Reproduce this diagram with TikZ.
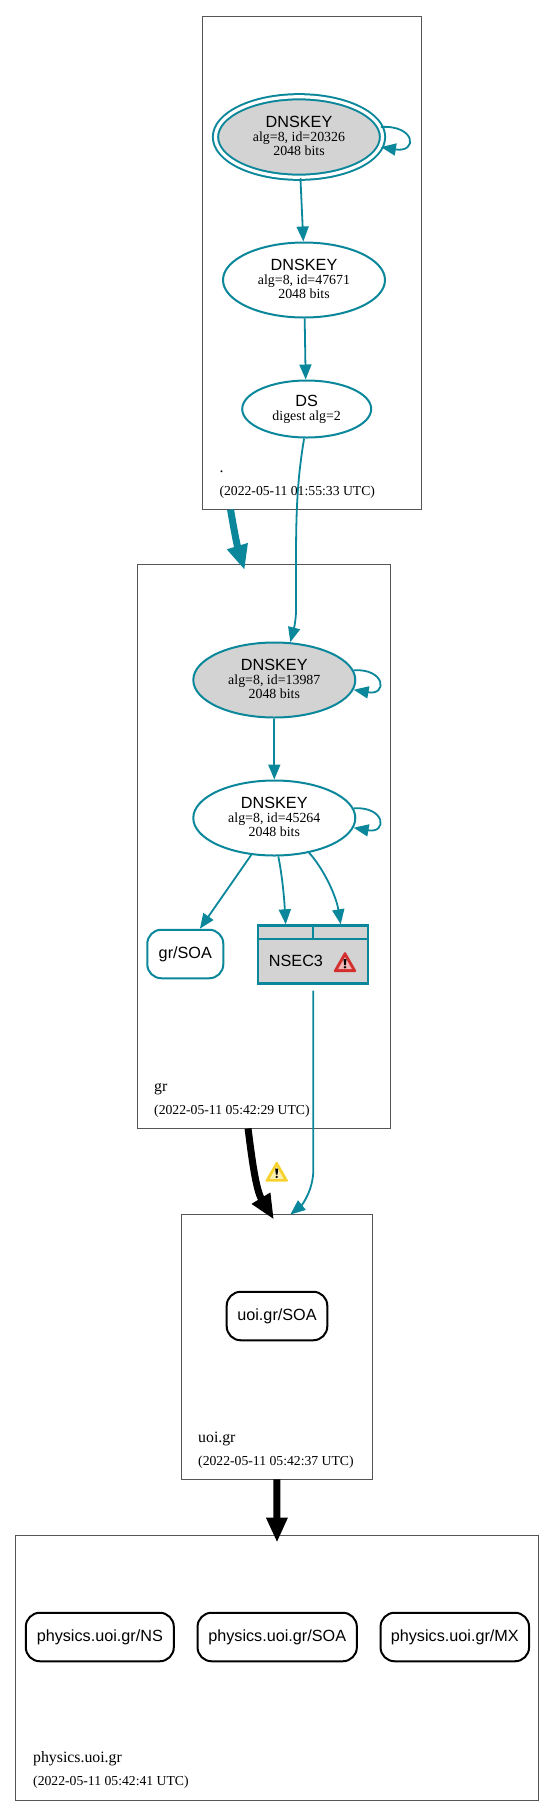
\documentclass[tikz,border=0pt]{standalone}
\usepackage{fontspec}
\setmainfont{Liberation Serif}
\setsansfont{Liberation Sans}
\usetikzlibrary{positioning,calc,shapes.geometric,arrows.meta}
\definecolor{secureteal}{HTML}{0A879A}
\definecolor{keygray}{HTML}{D3D3D3}
\definecolor{zoneline}{HTML}{555555}
\definecolor{warnred}{HTML}{D32F2F}
\definecolor{warnyellow}{HTML}{F7D22E}
\newcommand{\namefont}{\sffamily\fontsize{16.2}{16.2}\selectfont}
\newcommand{\infofont}{\rmfamily\fontsize{13.9}{14.2}\selectfont}
\newcommand{\keytext}[2]{{\namefont DNSKEY}\\ alg=8, id=#1\\ #2 bits}

\begin{document}
\begin{tikzpicture}[
    x=1pt, y=-1pt,
    zonebox/.style={rectangle, draw=zoneline, line width=0.9pt, inner sep=0pt},
    zonename/.style={anchor=base west, inner sep=0pt, font=\rmfamily\fontsize{15.8}{15.8}\selectfont},
    zonetime/.style={anchor=base west, inner sep=0pt, font=\rmfamily\fontsize{13.7}{14}\selectfont},
    keynode/.style={ellipse, draw=secureteal, line width=2pt, inner sep=0pt,
                    minimum width=162pt, minimum height=75pt, align=center,
                    font=\infofont, text depth=2pt},
    rrnode/.style={rectangle, rounded corners=14pt, draw=#1, line width=2pt, inner sep=0pt,
                   minimum height=48.5pt, font=\namefont, text height=11.6pt, text depth=2pt},
    link/.style={draw=secureteal, line width=1.8pt, -{Triangle[length=15pt,width=12pt]}},
    fatlink/.style={draw=#1, line width=7pt, -{Triangle[length=25pt,width=20pt]}},
    warnsign/.pic={
        \fill[#1, rounded corners=1.5pt] (-12,10) -- (0,-11) -- (12,10) -- cycle;
        \fill[white!65!#1, rounded corners=0.5pt] (-7,7.2) -- (0,-5) -- (7,7.2) -- cycle;
        \fill[black] (-1.5,-3) -- (1.5,-3) -- (0.8,3) -- (-0.8,3) -- cycle;
        \fill[black] (0,5.2) circle (1.3);
    }
]
\useasboundingbox (0,0) rectangle (555,1816);

% zones
\node[zonebox, minimum width=219pt, minimum height=493pt] (rootzone) at (312,262.5) {};
\node[zonebox, minimum width=253pt, minimum height=564pt] (grzone) at (264,846) {};
\node[zonebox, minimum width=190.5pt, minimum height=265pt] (uoizone) at (276.8,1346.5) {};
\node[zonebox, minimum width=523pt, minimum height=265pt] (physicszone) at (277,1667.5) {};

\foreach \name/\when/\x/\y in {./01:55:33/219.3/472.7, gr/05:42:29/154/1091.7, uoi.gr/05:42:37/198/1442.5, physics.uoi.gr/05:42:41/33/1762.5} {
    \node[zonename] (label-\name) at (\x,\y) {\name};
    \node[zonetime] (time-\name) at (\x,\y+23) {(2022-05-11 \when\ UTC)};
}

% root
\node[keynode, fill=keygray, double=white, double distance=3.2pt, minimum width=167pt, minimum height=80.5pt] (key20326) at (299,137) {\keytext{20326}{2048}};
\node[keynode] (key47671) at (304,280) {\keytext{47671}{2048}};
\node[keynode, minimum width=129pt, minimum height=57pt, text depth=1.6pt] (dsroot) at (306.7,409) {{\namefont DS}\\ digest alg=2};

% gr
\node[keynode, fill=keygray] (key13987) at (274.3,680) {\keytext{13987}{2048}};
\node[keynode] (key45264) at (274.3,818) {\keytext{45264}{2048}};
\node[rrnode=secureteal, minimum width=76pt] (grsoa) at (185.3,954) {gr/SOA};

\node[rectangle, draw=secureteal, fill=keygray, line width=2.2pt, inner sep=0pt, minimum width=110pt, minimum height=58pt] (nsec) at (313.3,954.4) {};
\draw[secureteal, line width=2.2pt] (nsec.north) -- ++(0,14);
\draw[secureteal, line width=2.6pt] (nsec.west |- 0,939) -- (nsec.east |- 0,939);
\node[font=\namefont, inner sep=0pt] (nseclabel) at (296,960.5) {NSEC3};
\pic at (345,962) {warnsign=warnred};
\pic at (276.7,1171.7) {warnsign=warnyellow};

% uoi.gr and physics
\node[rrnode=black, minimum width=100.6pt] (uoisoa) at (277,1316) {uoi.gr/SOA};
\node[rrnode=black, minimum width=148pt] (physicsns) at (99.8,1637) {physics.uoi.gr/NS};
\node[rrnode=black, minimum width=159.3pt] (physicssoa) at (277.2,1637) {physics.uoi.gr/SOA};
\node[rrnode=black, minimum width=148.5pt] (physicsmx) at (454.8,1637) {physics.uoi.gr/MX};

% links
\draw[link] (key20326.-88) -- (key47671.91);
\draw[link] (key47671.-89) -- (dsroot.92);
\draw[link] (key13987.south) -- (key45264.north);
\draw[link] (key45264.-122) -- (grsoa.60);
\draw[link] (key45264.-84) .. controls (282,875) and (284,895) .. ([xshift=-27.6pt]nsec.north);
\draw[link] (key45264.-45) .. controls (323,868) and (336,895) .. ([xshift=27.4pt]nsec.north);

\foreach \key/\bulge in {key20326/35, key13987/32, key45264/32} {
    \draw[link] (\key.7) .. controls +(\bulge,-2) and +(\bulge+2,6) .. (\key.-7);
}

\draw[link] (dsroot.-95) .. controls (298,475) and (296,505) .. (296,560)
    -- (296,610) .. controls (296,622) and (293,632) .. (key13987.67);
\draw[link] ([yshift=-6pt]nsec.south) -- (313.3,1170) .. controls (313.3,1190) and (302,1205) .. ([xshift=109.2pt,yshift=-1pt]uoizone.north west);

\draw[fatlink=secureteal] ([xshift=28.5pt]rootzone.south west) .. controls (234,530) and (237,545) .. ([xshift=107.5pt,yshift=-6.5pt]grzone.north west);
\draw[fatlink=black] ([xshift=111pt]grzone.south west) .. controls (252,1160) and (256,1190) .. ([xshift=92.8pt,yshift=-6pt]uoizone.north west);
\draw[fatlink=black] (uoizone.south) -- ([yshift=-8pt]physicszone.north);

\end{tikzpicture}
\end{document}
